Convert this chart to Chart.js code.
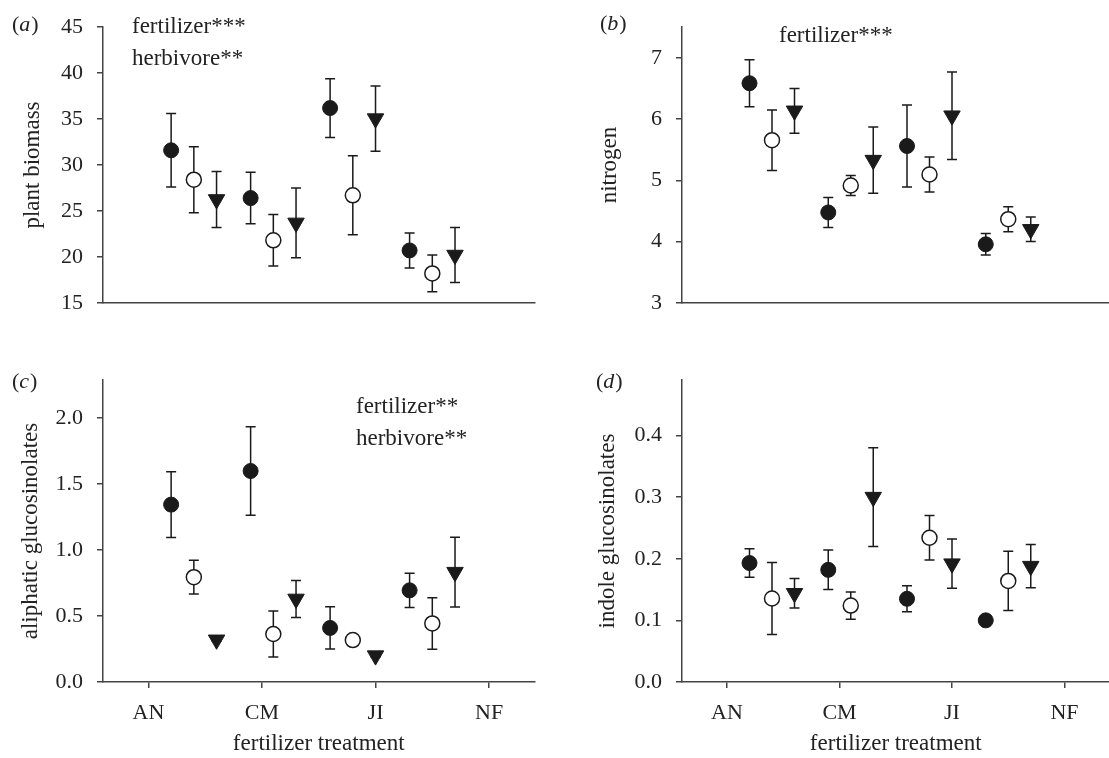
<!DOCTYPE html>
<html>
<head>
<meta charset="utf-8">
<script src="https://cdn.jsdelivr.net/npm/chart.js@4.4.1/dist/chart.umd.min.js"></script>
<style>
  html, body { margin: 0; padding: 0; background: #fff; width: 1109px; height: 758px; overflow: hidden; position: relative; }
  canvas { position: absolute; }
</style>
</head>
<body>
<canvas id="chartA" width="545" height="330" style="left:0;top:0"></canvas>
<canvas id="chartB" width="560" height="330" style="left:560px;top:0"></canvas>
<canvas id="chartC" width="545" height="418" style="left:0;top:340px"></canvas>
<canvas id="chartD" width="560" height="418" style="left:560px;top:340px"></canvas>
<script>
// fertilizer treatments and where each group of three points sits on the x axis
const categories = ['AN', 'CM', 'JI', 'NF'];
const groupPos = [1.4, 2.1, 2.8, 3.5];
const seriesOffset = [-0.2, 0, 0.2];

// (a) plant biomass: filled circle, open circle, triangle (mean, +/- error)
const biomassFilled = [31.6, 26.4, 36.2, 20.7];
const biomassFilledErr = [4.0, 2.8, 3.2, 1.9];
const biomassOpen = [28.4, 21.8, 26.7, 18.2];
const biomassOpenErr = [3.6, 2.8, 4.3, 2.0];
const biomassTri = [26.25, 23.7, 35.05, 20.2];
const biomassTriErr = [3.05, 3.8, 3.55, 3.0];

// (b) nitrogen
const nitrogenFilled = [6.585, 4.475, 5.56, 3.955];
const nitrogenFilledErr = [0.385, 0.245, 0.67, 0.175];
const nitrogenOpen = [5.655, 4.915, 5.095, 4.365];
const nitrogenOpenErr = [0.495, 0.165, 0.285, 0.205];
const nitrogenTri = [6.135, 5.33, 6.055, 4.2];
const nitrogenTriErr = [0.365, 0.54, 0.715, 0.2];

// (c) aliphatic glucosinolates
const aliphaticFilled = [1.345, 1.60, 0.41, 0.695];
const aliphaticFilledErr = [0.25, 0.335, 0.16, 0.13];
const aliphaticOpen = [0.795, 0.364, 0.318, 0.444];
const aliphaticOpenErr = [0.128, 0.175, 0.01, 0.195];
const aliphaticTri = [0.32, 0.63, 0.20, 0.833];
const aliphaticTriErr = [0.01, 0.14, 0.01, 0.265];

// (d) indole glucosinolates
const indoleFilled = [0.193, 0.182, 0.135, 0.10];
const indoleFilledErr = [0.023, 0.032, 0.021, 0.005];
const indoleOpen = [0.1355, 0.124, 0.234, 0.164];
const indoleOpenErr = [0.0585, 0.022, 0.036, 0.048];
const indoleTri = [0.144, 0.30, 0.192, 0.188];
const indoleTriErr = [0.024, 0.08, 0.04, 0.035];

const SERIF = '"Liberation Serif", "Times New Roman", serif';
const INK = '#1a1a1a';
const AXIS = '#444';

Chart.defaults.font.family = SERIF;
Chart.defaults.color = '#222';

// draws the vertical error bars with caps, under the markers
const errorBars = {
    id: 'errorBars',
    beforeDatasetsDraw(chart) {
        const {ctx, scales: {x, y}} = chart;
        ctx.save();
        ctx.strokeStyle = INK;
        ctx.lineWidth = 1.5;
        chart.data.datasets.forEach(ds => {
            ds.data.forEach((pt, i) => {
                const err = ds.errors[i];
                const px = x.getPixelForValue(pt.x);
                const top = y.getPixelForValue(pt.y + err);
                const bot = y.getPixelForValue(pt.y - err);
                ctx.beginPath();
                ctx.moveTo(px, top); ctx.lineTo(px, bot);
                ctx.moveTo(px - 5, top); ctx.lineTo(px + 5, top);
                ctx.moveTo(px - 5, bot); ctx.lineTo(px + 5, bot);
                ctx.stroke();
            });
        });
        ctx.restore();
    }
};

// panel letter "(a)" with italic letter, plus significance notes
const panelText = {
    id: 'panelText',
    afterDraw(chart, args, opts) {
        const ctx = chart.ctx;
        ctx.save();
        ctx.fillStyle = '#222';
        ctx.textBaseline = 'alphabetic';
        let x = opts.letterX;
        ctx.font = '22px ' + SERIF;
        ctx.fillText('(', x, opts.letterY);
        x += ctx.measureText('(').width;
        ctx.font = 'italic 22px ' + SERIF;
        ctx.fillText(opts.letter, x, opts.letterY);
        x += ctx.measureText(opts.letter).width + 1;
        ctx.font = '22px ' + SERIF;
        ctx.fillText(')', x, opts.letterY);
        ctx.font = '23px ' + SERIF;
        opts.notes.forEach(n => ctx.fillText(n.text, n.x, n.y));
        ctx.restore();
    }
};

function points(vals, s) {
    return vals.map((v, i) => ({x: groupPos[i] + seriesOffset[s], y: v}));
}

function makePanel(id, p) {
    const datasets = [
        {data: points(p.filled, 0), errors: p.filledErr, pointStyle: 'circle', pointRadius: 7.5,
         backgroundColor: INK, borderColor: INK, borderWidth: 1},
        {data: points(p.open, 1), errors: p.openErr, pointStyle: 'circle', pointRadius: 7.5,
         backgroundColor: '#fff', borderColor: INK, borderWidth: 1.5},
        {data: points(p.tri, 2), errors: p.triErr, pointStyle: 'triangle', pointRadius: 9.5, rotation: 180,
         backgroundColor: INK, borderColor: INK, borderWidth: 1}
    ];
    return new Chart(document.getElementById(id), {
        type: 'scatter',
        data: {datasets},
        options: {
            responsive: false,
            animation: false,
            events: [],
            layout: {padding: {top: p.padTop, right: p.padRight, bottom: 0, left: 0}},
            plugins: {
                legend: {display: false},
                tooltip: {enabled: false},
                panelText: {letter: p.letter, letterX: p.letterX, letterY: p.letterY, notes: p.notes}
            },
            scales: {
                x: {
                    type: 'linear',
                    min: 0.6,
                    max: 4.4,
                    afterBuildTicks: s => { s.ticks = categories.map((c, i) => ({value: i + 1})); },
                    afterFit: s => { s.height = p.xHeight; },
                    ticks: {display: p.showX, callback: (v, i) => categories[i], font: {size: 22}, padding: 12, maxRotation: 0},
                    grid: {display: p.showX, drawOnChartArea: false, tickLength: 6, color: AXIS, lineWidth: 1.5},
                    border: {display: true, color: AXIS, width: 1.5},
                    title: {display: p.showX, text: 'fertilizer treatment', font: {size: 23}, padding: {top: 0, bottom: 0}}
                },
                y: {
                    min: p.ymin,
                    max: p.ymax,
                    afterFit: s => { s.width = p.yWidth; },
                    ticks: {stepSize: p.ystep, includeBounds: false, font: {size: 22}, padding: 14,
                            callback: v => v.toFixed(p.decimals)},
                    grid: {drawOnChartArea: false, tickLength: 6, color: AXIS, lineWidth: 1.5},
                    border: {display: true, color: AXIS, width: 1.5},
                    title: {display: true, text: p.ylabel, font: {size: 23}, padding: {top: p.titlePad, bottom: 0}}
                }
            }
        },
        plugins: [errorBars, panelText]
    });
}

makePanel('chartA', {
    filled: biomassFilled, filledErr: biomassFilledErr, open: biomassOpen, openErr: biomassOpenErr,
    tri: biomassTri, triErr: biomassTriErr,
    ylabel: 'plant biomass', ymin: 15, ymax: 45, ystep: 5, decimals: 0,
    padTop: 24, padRight: 10, yWidth: 103, xHeight: 4, showX: false, titlePad: 19,
    letter: 'a', letterX: 12, letterY: 31,
    notes: [{text: 'fertilizer***', x: 132, y: 33}, {text: 'herbivore**', x: 132, y: 65}]
});

makePanel('chartB', {
    filled: nitrogenFilled, filledErr: nitrogenFilledErr, open: nitrogenOpen, openErr: nitrogenOpenErr,
    tri: nitrogenTri, triErr: nitrogenTriErr,
    ylabel: 'nitrogen', ymin: 3, ymax: 7.5, ystep: 1, decimals: 0,
    padTop: 23, padRight: 7, yWidth: 122, xHeight: 5, showX: false, titlePad: 36,
    letter: 'b', letterX: 40, letterY: 30,
    notes: [{text: 'fertilizer***', x: 219, y: 42}]
});

makePanel('chartC', {
    filled: aliphaticFilled, filledErr: aliphaticFilledErr, open: aliphaticOpen, openErr: aliphaticOpenErr,
    tri: aliphaticTri, triErr: aliphaticTriErr,
    ylabel: 'aliphatic glucosinolates', ymin: 0, ymax: 2.29, ystep: 0.5, decimals: 1,
    padTop: 40, padRight: 10, yWidth: 103, xHeight: 76, showX: true, titlePad: 17,
    letter: 'c', letterX: 12, letterY: 48,
    notes: [{text: 'fertilizer**', x: 356, y: 73}, {text: 'herbivore**', x: 356, y: 105}]
});

makePanel('chartD', {
    filled: indoleFilled, filledErr: indoleFilledErr, open: indoleOpen, openErr: indoleOpenErr,
    tri: indoleTri, triErr: indoleTriErr,
    ylabel: 'indole glucosinolates', ymin: 0, ymax: 0.49, ystep: 0.1, decimals: 1,
    padTop: 40, padRight: 7, yWidth: 122, xHeight: 76, showX: true, titlePad: 34,
    letter: 'd', letterX: 36, letterY: 48,
    notes: []
});
</script>
</body>
</html>
